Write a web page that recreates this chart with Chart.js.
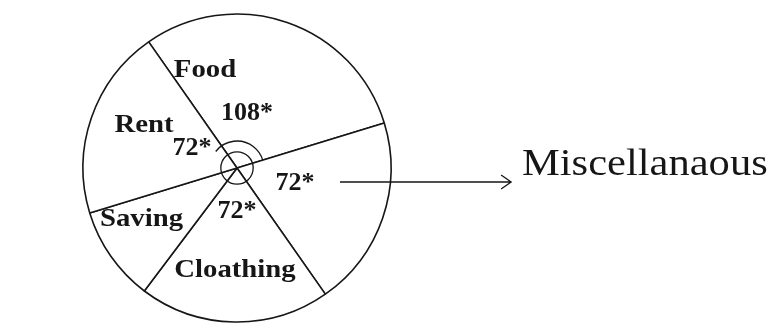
<!DOCTYPE html>
<html>
<head>
<meta charset="utf-8">
<script src="https://cdn.jsdelivr.net/npm/chart.js@4"></script>
<style>
  html, body { margin: 0; padding: 0; background: #fff; }
  #wrap { width: 774px; height: 325px; position: relative; }
</style>
</head>
<body>
<div id="wrap"><canvas id="chart"></canvas></div>
<script>
// values as written on the drawing (degrees)
const categories = ['Food', 'Miscellanaous', 'Cloathing', 'Saving', 'Rent'];
const degrees = [108, 72, 72, 36, 72];
const degreeText = ['108*', '72*', '72*', '', '72*'];

// where the hand-written texts sit, relative to the pie centre (in radii)
const nameAt = [[-0.208, -0.591], null, [-0.013, 0.708], [-0.62, 0.377], [-0.604, -0.234]];
const degreeAt = [[0.065, -0.312], [0.377, 0.143], [0, 0.325], null, [-0.292, -0.084]];

const ink = '#161616';

function stretchText(ctx, str, x, y, font, sx) {
    ctx.save();
    ctx.font = font;
    ctx.translate(x, y);
    ctx.scale(sx, 1);
    ctx.fillText(str, 0, 0);
    ctx.restore();
}

const sketchLabels = {
    id: 'sketchLabels',
    afterDatasetsDraw(chart) {
        const ctx = chart.ctx;
        const arcs = chart.getDatasetMeta(0).data;
        const { x: cx, y: cy, outerRadius: r } = arcs[0];

        // angle marks around the centre
        ctx.save();
        ctx.strokeStyle = ink;
        ctx.lineWidth = 1.3;
        ctx.beginPath();
        ctx.arc(cx, cy, r * 0.105, 0, Math.PI * 2);
        ctx.stroke();
        ctx.beginPath();
        ctx.arc(cx, cy, r * 0.175, arcs[0].startAngle - 0.3, arcs[0].endAngle);
        ctx.stroke();

        // arrow pointing to the outside label
        const ay = cy + r * 0.091;
        const x0 = cx + r * 0.669, x1 = cx + r * 1.78;
        ctx.beginPath();
        ctx.moveTo(x0, ay);
        ctx.lineTo(x1, ay);
        ctx.moveTo(x1 - 10, ay - 7);
        ctx.lineTo(x1, ay);
        ctx.lineTo(x1 - 10, ay + 7);
        ctx.stroke();

        ctx.fillStyle = ink;
        ctx.textAlign = 'left';
        ctx.textBaseline = 'alphabetic';
        stretchText(ctx, categories[1], cx + r * 1.85, cy + r * 0.045, '38px "Liberation Serif"', 1.12);

        ctx.textAlign = 'center';
        categories.forEach((name, i) => {
            if (nameAt[i]) {
                stretchText(ctx, name, cx + nameAt[i][0] * r, cy + nameAt[i][1] * r,
                    'bold 25px "Liberation Serif"', 1.15);
            }
            if (degreeAt[i]) {
                stretchText(ctx, degreeText[i], cx + degreeAt[i][0] * r, cy + degreeAt[i][1] * r,
                    'bold 26px "Liberation Serif"', 1);
            }
        });
        ctx.restore();
    }
};

new Chart(document.getElementById('chart'), {
    type: 'pie',
    data: {
        labels: categories,
        datasets: [{
            data: degrees,
            backgroundColor: '#ffffff',
            borderColor: ink,
            borderWidth: 1.6,
            radius: 154,
            hoverOffset: 0
        }]
    },
    options: {
        responsive: true,
        maintainAspectRatio: false,
        animation: false,
        devicePixelRatio: 1,
        rotation: 325,
        layout: { padding: { left: 80, top: 11, right: 380, bottom: 0 } },
        plugins: {
            legend: { display: false },
            tooltip: { enabled: false }
        }
    },
    plugins: [sketchLabels]
});
</script>
</body>
</html>
